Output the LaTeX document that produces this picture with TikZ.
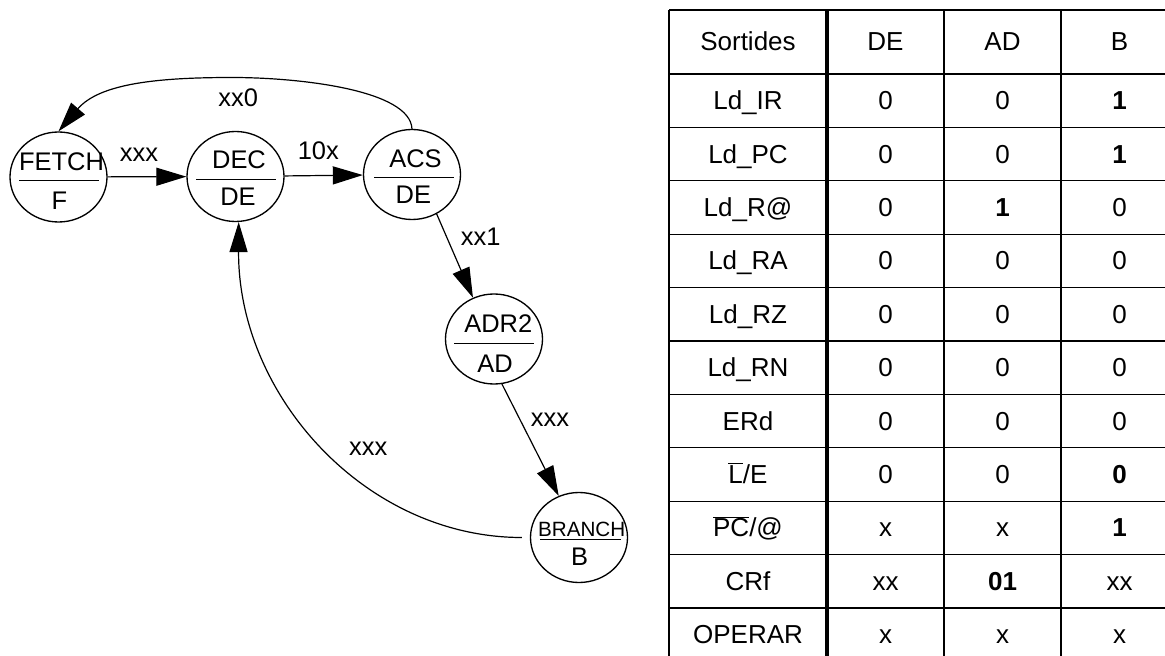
\documentclass[tikz,border=0pt]{standalone}
\usepackage{fontspec}
\setmainfont{Liberation Sans}
\usetikzlibrary{arrows.meta,shapes.geometric}

% signal names with an overbar
\newcommand{\lbarE}{$\overline{\hbox{L}}$/E}
\newcommand{\pcbarAt}{$\overline{\hbox{PC}}$/@}

\tikzset{
  fsmstate/.style={ellipse, draw, line width=1pt, minimum width=72.75pt,
    minimum height=67.5pt, inner sep=0pt},
  stxt/.style={inner sep=0pt, anchor=center},
  divider/.style={line width=1pt},
  trans/.style={line width=0.9pt, -{Triangle[length=22.5pt,width=13.5pt]}},
  cond/.style={inner sep=0pt, anchor=base},
  cell/.style={inner sep=0pt, anchor=base, font=\fontsize{19.5}{23}\selectfont},
  gridline/.style={line width=1pt},
  splitline/.style={line width=3.2pt}
}

\begin{document}
\begin{tikzpicture}[x=0.75pt, y=-0.75pt, font=\fontsize{19.1}{23}\selectfont]
\useasboundingbox (0,0) rectangle (1165,656);
\clip (0,0) rectangle (1165,656);

% ---------- state diagram ----------
\node[fsmstate] (fetch) at (58.5,177) {};
\node[fsmstate] (dec)   at (235.5,176.5) {};
\node[fsmstate] (acs)   at (412,174.5) {};
\node[fsmstate] (adr)   at (494,339) {};
\node[fsmstate] (br)    at (579,537.5) {};

% state name / output code
\node[stxt] (fetchN) at (61.5,161.5) {FETCH};
\node[stxt] (fetchO) at (59.5,201) {F};
\draw[divider] (19,180.7) -- (99,180.7);

\node[stxt] (decN) at (239,159.8) {DEC};
\node[stxt] (decO) at (238,196.4) {DE};
\draw[divider] (196,179.7) -- (276,179.7);

\node[stxt] (acsN) at (415.5,159.2) {ACS};
\node[stxt] (acsO) at (413.3,195) {DE};
\draw[divider] (374,177.3) -- (454,177.3);

\node[stxt] (adrN) at (498.3,323.3) {ADR2};
\node[stxt] (adrO) at (495,363.3) {AD};
\draw[divider] (454,343.3) -- (534,343.3);

\node[stxt, font=\fontsize{15.5}{18}\selectfont] (brN) at (581.7,529.3) {BRANCH};
\node[stxt] (brO) at (579.5,557) {B};
\draw[divider] (540,539.3) -- (620.7,539.3);

% transitions
\draw[trans] (fetch) -- (dec);
\draw[trans] (dec) -- (acs);
\coordinate (loopTop) at (232,77.5);
\draw[trans] (acs.north) .. controls (410,90) and (300,77.5) .. (loopTop)
  .. controls (160,77.5) and (100,83) .. (fetch.north);
\draw[trans] (acs.-58.6) -- (adr.117);
\draw[trans] (adr.-80.5) -- (br.116);
\coordinate (brOut) at ([xshift=-6pt]br.west);
\draw[trans] (brOut) .. controls (365,537.5) and (238,395) .. (dec.-86);

% transition conditions
\node[cond] (c1) at (139,161.7) {xxx};
\node[cond] (c2) at (318.3,160) {10x};
\node[cond] (c3) at (238.3,106.7) {xx0};
\node[cond] (c4) at (480.8,245.7) {xx1};
\node[cond] (c5) at (550,426) {xxx};
\node[cond] (c6) at (368.3,455) {xxx};

% ---------- output table ----------
\foreach \yy in {10,74,127.4,180.8,234.2,287.6,341,394.4,447.8,501.2,554.6,608,661.4}
  \draw[gridline] (669,\yy) -- (1178,\yy);
\foreach \xx in {669,944,1061,1178}
  \draw[gridline] (\xx,10) -- (\xx,662);
\draw[splitline] (827,10) -- (827,662);

\node[cell] (h0) at (748,51) {Sortides};
\node[cell] (h1) at (885.5,51) {DE};
\node[cell] (h2) at (1002.5,51) {AD};
\node[cell] (h3) at (1119.5,51) {B};

\foreach \lab/\va/\vb/\vc [count=\i] in {
  Ld\_IR/0/0/\textbf{1},
  Ld\_PC/0/0/\textbf{1},
  Ld\_R@/0/\textbf{1}/0,
  Ld\_RA/0/0/0,
  Ld\_RZ/0/0/0,
  Ld\_RN/0/0/0,
  ERd/0/0/0,
  \lbarE/0/0/\textbf{0},
  \pcbarAt/x/x/\textbf{1},
  CRf/xx/\textbf{01}/xx,
  OPERAR/x/x/x}{
  \pgfmathsetmacro\yb{74+53.4*(\i-0.5)+9}
  \node[cell] (r\i-0) at (748,\yb) {\lab};
  \node[cell] (r\i-1) at (885.5,\yb) {\va};
  \node[cell] (r\i-2) at (1002.5,\yb) {\vb};
  \node[cell] (r\i-3) at (1119.5,\yb) {\vc};
}
\end{tikzpicture}
\end{document}
